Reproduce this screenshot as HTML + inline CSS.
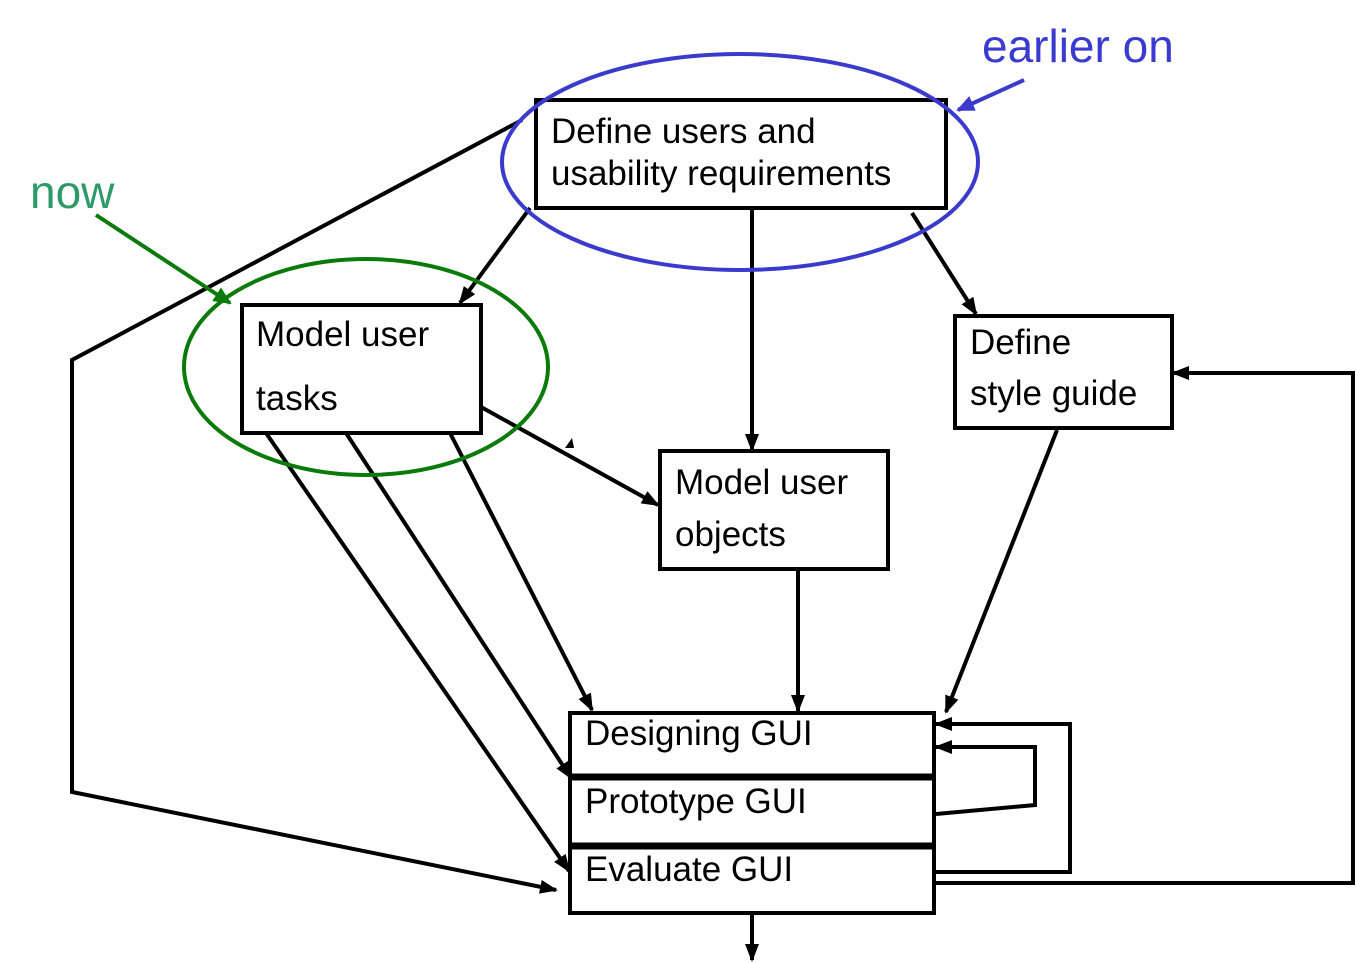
<!DOCTYPE html>
<html><head><style>body{margin:0;background:#fff}svg{display:block}text{font-family:"Liberation Sans",sans-serif}</style></head>
<body>
<svg width="1356" height="962" viewBox="0 0 1356 962" xmlns="http://www.w3.org/2000/svg">
<defs>
<marker id="ab" markerWidth="18" markerHeight="14" refX="16" refY="7" orient="auto" markerUnits="userSpaceOnUse" viewBox="0 0 18 14"><path d="M0,0 L18,7 L0,14z" fill="#000"/></marker>
<marker id="ablue" markerWidth="18" markerHeight="16" refX="16" refY="8" orient="auto" markerUnits="userSpaceOnUse" viewBox="0 0 18 16"><path d="M0,0 L18,8 L0,16z" fill="#3a3acc"/></marker>
<marker id="agreen" markerWidth="18" markerHeight="16" refX="16" refY="8" orient="auto" markerUnits="userSpaceOnUse" viewBox="0 0 18 16"><path d="M0,0 L18,8 L0,16z" fill="#0a7a0a"/></marker>
</defs>
<g stroke="#000" stroke-width="4" fill="none">
<polyline points="522,120 72,360 72,792 556,890" marker-end="url(#ab)"/>
<line x1="530" y1="208" x2="460" y2="303" marker-end="url(#ab)"/>
<line x1="752" y1="206" x2="752" y2="450" marker-end="url(#ab)"/>
<line x1="912" y1="213" x2="976" y2="314" marker-end="url(#ab)"/>
<line x1="481" y1="407" x2="658" y2="505" marker-end="url(#ab)"/>
<line x1="266" y1="433" x2="569" y2="871" marker-end="url(#ab)"/>
<line x1="346" y1="433" x2="571" y2="778" marker-end="url(#ab)"/>
<line x1="450" y1="433" x2="592" y2="710" marker-end="url(#ab)"/>
<line x1="798" y1="569" x2="798" y2="711" marker-end="url(#ab)"/>
<line x1="1057" y1="430" x2="946" y2="712" marker-end="url(#ab)"/>
<polyline points="936,814 1035,805 1035,747 936,747" marker-end="url(#ab)"/>
<polyline points="936,872 1070,872 1070,724 936,724" marker-end="url(#ab)"/>
<polyline points="936,883 1353,883 1353,373 1173,373" marker-end="url(#ab)"/>
<line x1="752" y1="913" x2="752" y2="960" marker-end="url(#ab)"/>
</g>
<path d="M565,448 L572,438 L574,448z" fill="#000"/>
<g stroke="#000" stroke-width="4" fill="#fff">
<rect x="536" y="100" width="410" height="108"/>
<rect x="242" y="305" width="239" height="128"/>
<rect x="660" y="451" width="228" height="118"/>
<rect x="955" y="316" width="217" height="112"/>
<rect x="570" y="713" width="364" height="200"/>
</g>
<line x1="570" y1="777" x2="934" y2="777" stroke="#000" stroke-width="7"/>
<line x1="570" y1="846" x2="934" y2="846" stroke="#000" stroke-width="7"/>
<g font-size="35" fill="#000">
<text x="551" y="143">Define users and</text>
<text x="551" y="185">usability requirements</text>
<text x="256" y="346">Model user</text>
<text x="256" y="410">tasks</text>
<text x="675" y="494">Model user</text>
<text x="675" y="546">objects</text>
<text x="970" y="354">Define</text>
<text x="970" y="405">style guide</text>
<text x="585" y="745">Designing  GUI</text>
<text x="585" y="813">Prototype  GUI</text>
<text x="585" y="881">Evaluate GUI</text>
</g>
<ellipse cx="740" cy="162" rx="238" ry="108" fill="none" stroke="#3a3acc" stroke-width="4"/>
<ellipse cx="366" cy="367" rx="182" ry="108" fill="none" stroke="#0a7a0a" stroke-width="4"/>
<line x1="1024" y1="80" x2="958" y2="110" stroke="#3a3acc" stroke-width="4" marker-end="url(#ablue)"/>
<line x1="96" y1="215" x2="230" y2="303" stroke="#0a7a0a" stroke-width="4" marker-end="url(#agreen)"/>
<text x="982" y="62" font-size="46" fill="#3a3ad0">earlier on</text>
<text x="30" y="208" font-size="46" fill="#2e9a6a">now</text>
</svg>
</body></html>
